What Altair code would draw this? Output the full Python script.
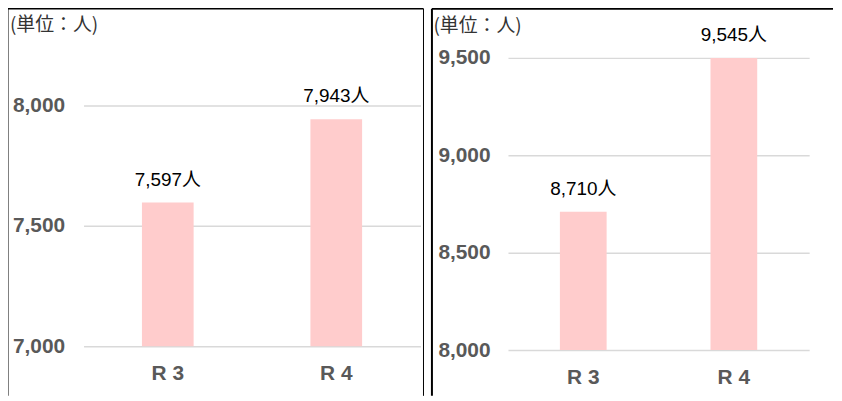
import altair as alt
import pandas as pd

# ---- data ----
categories = ["R 3", "R 4"]
left_values = [7597, 7943]
right_values = [8710, 9545]
left_ticks = [7000, 7500, 8000]
right_ticks = [8000, 8500, 9000, 9500]
unit_label = "(単位：人)"

left_df = pd.DataFrame({"cat": categories, "value": left_values})
right_df = pd.DataFrame({"cat": categories, "value": right_values})
one_row = pd.DataFrame({"k": [0]})
unit_df = pd.DataFrame({"t": [unit_label]})

PINK = "#FFCCCC"
GRAY = "#595959"
GRID = "#D9D9D9"
NUM_FONT = "Liberation Sans"
LBL_FONT = "Liberation Sans, Noto Sans CJK JP"
CJK_FONT = "Noto Sans CJK JP"


def panel(df, domain, ticks, width, height, bar_size, ylab_pad, xlab_pad,
          unit_x, unit_y, left_sw, top_sw, top_x2, right_border):
    base = alt.Chart(df).transform_calculate(
        label="format(datum.value, ',') + '人'",
        ly=f"min(datum.value, {domain[1]})",
    )
    x_enc = alt.X(
        "cat:N", sort=categories, title=None,
        scale=alt.Scale(paddingInner=0, paddingOuter=0),
        axis=alt.Axis(labelAngle=0, ticks=False, domain=False, grid=False,
                      labelFont=NUM_FONT, labelFontSize=21, labelFontWeight="bold",
                      labelColor=GRAY, labelPadding=xlab_pad),
    )
    y_enc = alt.Y(
        "value:Q", title=None,
        scale=alt.Scale(domain=domain, nice=False, zero=False),
        axis=alt.Axis(values=ticks, format=",d", ticks=False, domain=False,
                      grid=True, gridColor=GRID, gridWidth=1.5,
                      labelFont=NUM_FONT, labelFontSize=21, labelFontWeight="bold",
                      labelColor=GRAY, labelPadding=ylab_pad),
    )
    bars = base.mark_bar(color=PINK, size=bar_size, clip=True).encode(x=x_enc, y=y_enc)
    text = base.mark_text(font=LBL_FONT, fontSize=19, color="black",
                          baseline="alphabetic", dy=-17).encode(
        x=alt.X("cat:N", sort=categories, title=None),
        y=alt.Y("ly:Q", title=None),
        text="label:N",
    )
    unit = alt.Chart(unit_df).mark_text(
        font=CJK_FONT, fontSize=19, color="#333333", align="left", baseline="middle"
    ).encode(x=alt.value(unit_x), y=alt.value(unit_y), text="t:N")

    layers = []
    layers.append(alt.Chart(one_row).mark_rule(color="black", strokeWidth=left_sw).encode(
        x=alt.value(-76.5), y=alt.value(-49.5), y2=alt.value(340)))
    layers.append(alt.Chart(one_row).mark_rule(color="black", strokeWidth=top_sw).encode(
        x=alt.value(-76.5), x2=alt.value(top_x2), y=alt.value(-49.5)))
    if right_border is not None:
        layers.append(alt.Chart(one_row).mark_rule(color="black", strokeWidth=1).encode(
            x=alt.value(right_border), y=alt.value(-49.5), y2=alt.value(340)))
    layers += [unit, bars, text]
    return alt.layer(*layers).properties(width=width, height=height)


left = panel(left_df, [7000, 8198], left_ticks, 339, 290, 52, 19, 17,
             -74, -33, 2, 1.5, 342, 342)
right = panel(right_df, [8000, 9500], right_ticks, 303, 294, 47, 18, 17,
              -75, -32, 2, 2, 327, None)

chart = alt.hconcat(
    left, right, spacing=88, bounds="flush",
    padding={"left": -2, "top": -2, "right": 0, "bottom": 0},
).configure_view(strokeWidth=0)

chart.save("out.html", embed_options={"renderer": "svg", "actions": False})
